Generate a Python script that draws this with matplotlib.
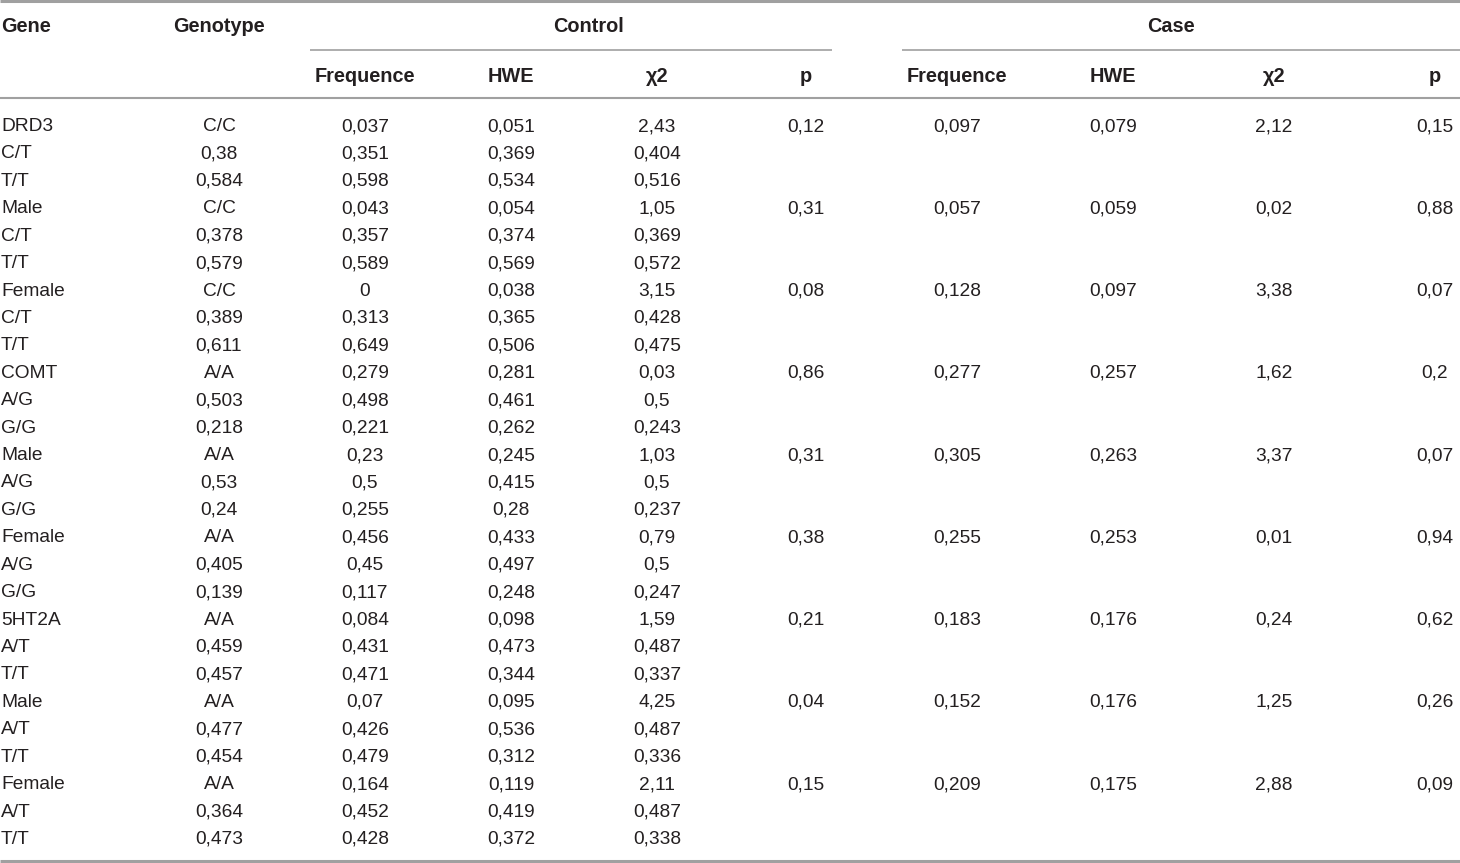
import matplotlib
matplotlib.use("Agg")
import matplotlib.pyplot as plt

# ---- data ----
gene_col = ["DRD3", "C/T", "T/T", "Male", "C/T", "T/T", "Female", "C/T", "T/T",
            "COMT", "A/G", "G/G", "Male", "A/G", "G/G", "Female", "A/G", "G/G",
            "5HT2A", "A/T", "T/T", "Male", "A/T", "T/T", "Female", "A/T", "T/T"]
genotype_col = ["C/C", "0,38", "0,584", "C/C", "0,378", "0,579", "C/C", "0,389", "0,611",
                "A/A", "0,503", "0,218", "A/A", "0,53", "0,24", "A/A", "0,405", "0,139",
                "A/A", "0,459", "0,457", "A/A", "0,477", "0,454", "A/A", "0,364", "0,473"]
ctrl_freq = ["0,037", "0,351", "0,598", "0,043", "0,357", "0,589", "0", "0,313", "0,649",
             "0,279", "0,498", "0,221", "0,23", "0,5", "0,255", "0,456", "0,45", "0,117",
             "0,084", "0,431", "0,471", "0,07", "0,426", "0,479", "0,164", "0,452", "0,428"]
ctrl_hwe = ["0,051", "0,369", "0,534", "0,054", "0,374", "0,569", "0,038", "0,365", "0,506",
            "0,281", "0,461", "0,262", "0,245", "0,415", "0,28", "0,433", "0,497", "0,248",
            "0,098", "0,473", "0,344", "0,095", "0,536", "0,312", "0,119", "0,419", "0,372"]
ctrl_chi = ["2,43", "0,404", "0,516", "1,05", "0,369", "0,572", "3,15", "0,428", "0,475",
            "0,03", "0,5", "0,243", "1,03", "0,5", "0,237", "0,79", "0,5", "0,247",
            "1,59", "0,487", "0,337", "4,25", "0,487", "0,336", "2,11", "0,487", "0,338"]
ctrl_p = ["0,12", "0,31", "0,08", "0,86", "0,31", "0,38", "0,21", "0,04", "0,15"]
case_freq = ["0,097", "0,057", "0,128", "0,277", "0,305", "0,255", "0,183", "0,152", "0,209"]
case_hwe = ["0,079", "0,059", "0,097", "0,257", "0,263", "0,253", "0,176", "0,176", "0,175"]
case_chi = ["2,12", "0,02", "3,38", "1,62", "3,37", "0,01", "0,24", "1,25", "2,88"]
case_p = ["0,15", "0,88", "0,07", "0,2", "0,07", "0,94", "0,62", "0,26", "0,09"]

header_top = ["Gene", "Genotype", "Control", "Case"]
sub_headers = ["Frequence", "HWE", "\u03c72", "p", "Frequence", "HWE", "\u03c72", "p"]

# ---- layout ----
W, H = 1460, 863
fig = plt.figure(figsize=(W / 100, H / 100), dpi=100)
ax = fig.add_axes([0, 0, 1, 1])
ax.set_xlim(0, W)
ax.set_ylim(H, 0)
ax.axis("off")

FONT = "Liberation Sans"
FS = 13.8
FSH = 14.3
TXT = "#231f20"
LINE = "#a0a0a0"

col_x = [365, 511, 657, 806, 957, 1113, 1274, 1435]
row_y0, row_dy = 126.5, 27.42
hdr1_y, hdr2_y = 26.5, 76.5

# header
hk = dict(va="center", fontsize=FSH, fontweight="bold", family=FONT, color=TXT)
ax.text(1, hdr1_y, header_top[0], ha="left", **hk)
ax.text(219, hdr1_y, header_top[1], ha="center", **hk)
ax.text(588, hdr1_y, header_top[2], ha="center", **hk)
ax.text(1171, hdr1_y, header_top[3], ha="center", **hk)
for x, s in zip(col_x, sub_headers):
    ax.text(x, hdr2_y, s, ha="center", **hk)

# rules
ax.plot([0, W], [1.5, 1.5], color=LINE, lw=2.2, solid_capstyle="butt")
ax.plot([310, 832], [50, 50], color=LINE, lw=1.2, solid_capstyle="butt")
ax.plot([902, W], [50, 50], color=LINE, lw=1.2, solid_capstyle="butt")
ax.plot([0, W], [98, 98], color=LINE, lw=1.5, solid_capstyle="butt")
ax.plot([0, W], [861, 861], color=LINE, lw=2.2, solid_capstyle="butt")

# body
kw = dict(va="center", fontsize=FS, family=FONT, color=TXT)
for i in range(len(gene_col)):
    y = row_y0 + i * row_dy
    ax.text(1, y, gene_col[i], ha="left", **kw)
    ax.text(219, y, genotype_col[i], ha="center", **kw)
    ax.text(col_x[0], y, ctrl_freq[i], ha="center", **kw)
    ax.text(col_x[1], y, ctrl_hwe[i], ha="center", **kw)
    ax.text(col_x[2], y, ctrl_chi[i], ha="center", **kw)
    if i % 3 == 0:
        g = i // 3
        ax.text(col_x[3], y, ctrl_p[g], ha="center", **kw)
        ax.text(col_x[4], y, case_freq[g], ha="center", **kw)
        ax.text(col_x[5], y, case_hwe[g], ha="center", **kw)
        ax.text(col_x[6], y, case_chi[g], ha="center", **kw)
        ax.text(col_x[7], y, case_p[g], ha="center", **kw)

fig.savefig("out.png", dpi=100, facecolor="white")
